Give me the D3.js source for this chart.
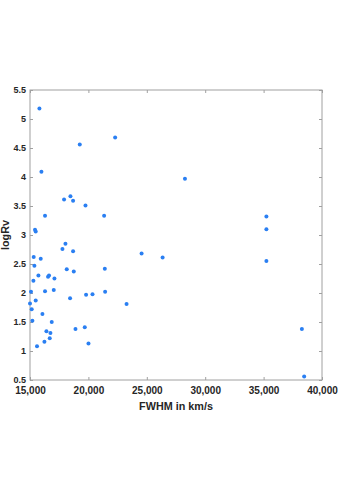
<!DOCTYPE html>
<html>
<head>
<meta charset="utf-8">
<script src="https://cdn.jsdelivr.net/npm/d3@7"></script>
<style>
  body { margin: 0; background: #fff; }
  svg { display: block; font-family: "Liberation Sans", Arial, sans-serif; }
</style>
</head>
<body>
<div id="chart"></div>
<script>
// FWHM (km/s) and logRv
let fwhm = [15806, 19262, 22290, 15977, 28267, 17916, 18462, 18688, 19750, 21346,
  16286, 15429, 15489, 18034, 17777, 18688, 15317, 15918, 15377, 18147,
  21406, 18748, 15720, 16629, 16544, 17092, 15291, 15086, 16286, 17033,
  18430, 19802, 20351, 21432, 15489, 15000, 15146, 24553, 26354, 23267,
  35240, 35240, 35240, 16063, 15206, 16861, 16406, 16749, 16690, 16235,
  15600, 18893, 19690, 20006, 38277, 38474];
let logRv = [5.18, 4.56, 4.68, 4.09, 3.97, 3.61, 3.67, 3.59, 3.51, 3.33,
  3.33, 3.09, 3.06, 2.85, 2.76, 2.72, 2.62, 2.59, 2.47, 2.41,
  2.42, 2.37, 2.30, 2.30, 2.28, 2.25, 2.21, 2.02, 2.03, 2.05,
  1.91, 1.97, 1.98, 2.02, 1.87, 1.82, 1.72, 2.68, 2.61, 1.81,
  3.32, 3.10, 2.55, 1.64, 1.52, 1.50, 1.34, 1.31, 1.22, 1.16,
  1.08, 1.38, 1.41, 1.13, 1.38, 0.56];
let xTicks = [15000, 20000, 25000, 30000, 35000, 40000];
let yTicks = [0.5, 1, 1.5, 2, 2.5, 3, 3.5, 4, 4.5, 5, 5.5];

let W = 346, H = 490;
let margin = {top: 90, right: 24, bottom: 110, left: 30};
let width = W - margin.left - margin.right;
let height = H - margin.top - margin.bottom;

let svg = d3.select("#chart").append("svg")
  .attr("width", W).attr("height", H);
let g = svg.append("g")
  .attr("transform", "translate(" + margin.left + "," + margin.top + ")");

let x = d3.scaleLinear().domain([15000, 40000]).range([0, width]);
let y = d3.scaleLinear().domain([0.5, 5.5]).range([height, 0]);

let axisColor = "#a0a0a0";
let styleAxis = (sel, size) => {
  sel.select(".domain").remove();
  sel.selectAll(".tick line").attr("stroke", axisColor);
  sel.selectAll(".tick text")
    .attr("fill", "#262626")
    .attr("font-size", size)
    .attr("font-weight", "bold");
};

// bottom + left with labels, ticks pointing inward
g.append("g")
  .attr("transform", "translate(0," + height + ")")
  .call(d3.axisBottom(x).tickValues(xTicks).tickFormat(d3.format(","))
    .tickSizeInner(-3).tickSizeOuter(0).tickPadding(7))
  .call(styleAxis, 10);
g.append("g")
  .call(d3.axisLeft(y).tickValues(yTicks).tickFormat(d => String(d))
    .tickSizeInner(-3).tickSizeOuter(0).tickPadding(4))
  .call(styleAxis, 9);
// top + right, ticks only
g.append("g")
  .call(d3.axisTop(x).tickValues(xTicks).tickFormat("")
    .tickSizeInner(-3).tickSizeOuter(0))
  .call(styleAxis, 9);
g.append("g")
  .attr("transform", "translate(" + width + ",0)")
  .call(d3.axisRight(y).tickValues(yTicks).tickFormat("")
    .tickSizeInner(-3).tickSizeOuter(0))
  .call(styleAxis, 9);

// frame
g.append("rect")
  .attr("x", 0).attr("y", 0)
  .attr("width", width).attr("height", height)
  .attr("fill", "none").attr("stroke", axisColor).attr("stroke-width", 1);

// points
g.selectAll("circle.pt")
  .data(fwhm.map((f, i) => ({f: f, r: logRv[i]})))
  .join("circle")
  .attr("class", "pt")
  .attr("cx", d => x(d.f))
  .attr("cy", d => y(d.r))
  .attr("r", 2)
  .attr("fill", "#2a7ff2");

// axis titles
g.append("text")
  .attr("x", width / 2).attr("y", height + 30)
  .attr("text-anchor", "middle")
  .attr("font-size", 10.8)
  .attr("font-weight", "bold")
  .attr("fill", "#262626")
  .text("FWHM in km/s");
g.append("text")
  .attr("transform", "translate(" + (-21) + "," + (height / 2) + ") rotate(-90)")
  .attr("text-anchor", "middle")
  .attr("font-size", 10.8)
  .attr("font-weight", "bold")
  .attr("fill", "#262626")
  .text("logRv");
</script>
</body>
</html>
